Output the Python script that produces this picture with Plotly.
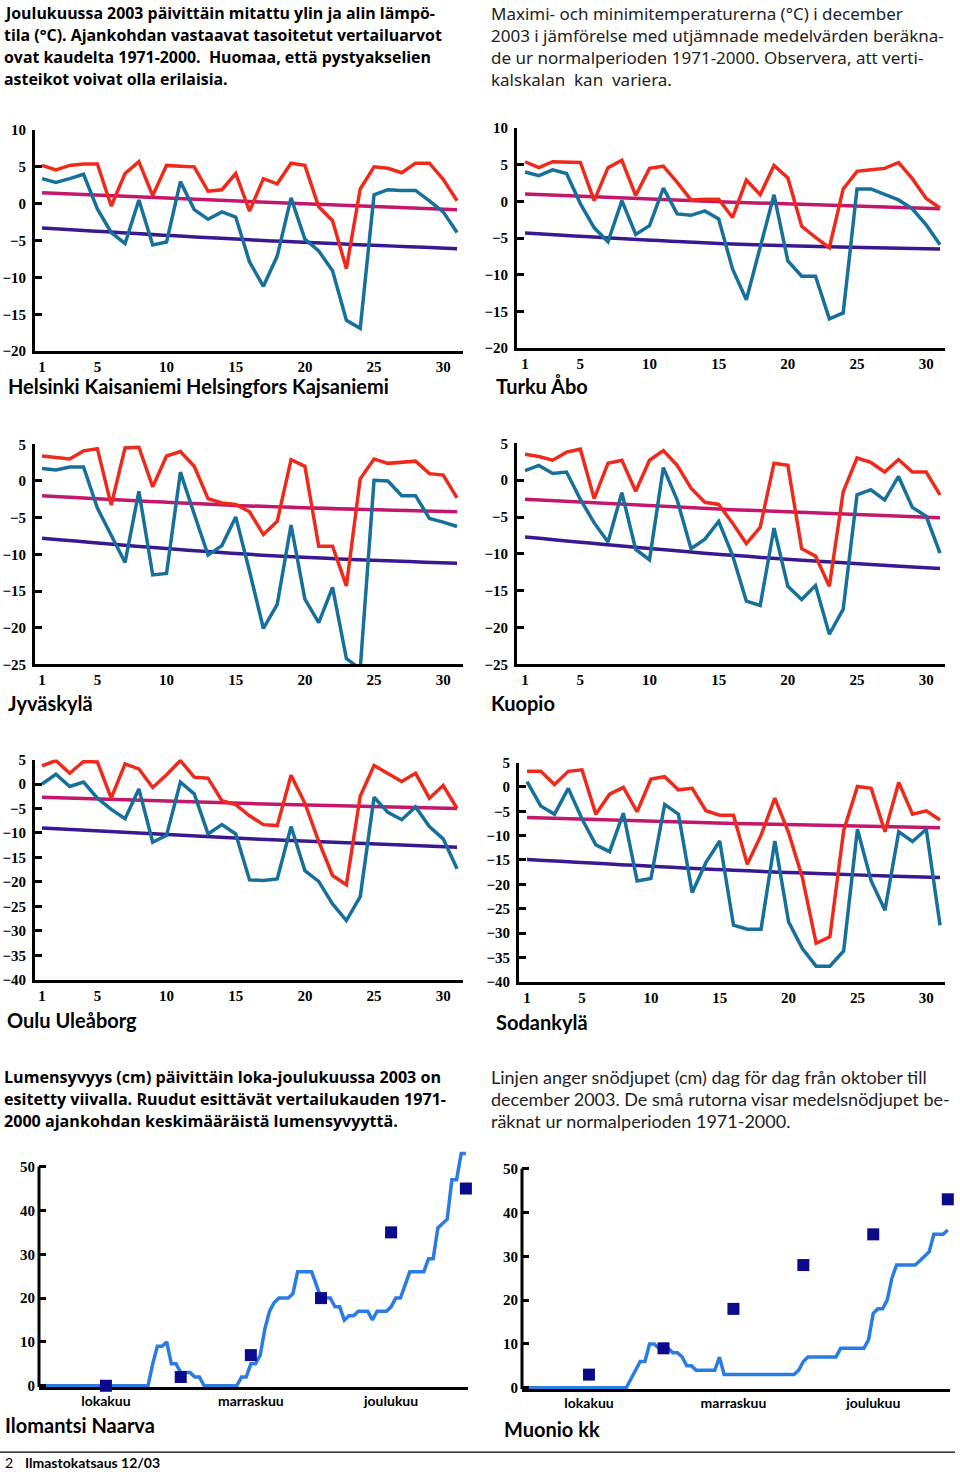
import plotly.graph_objects as go

W, H = 960, 1475

# ---------------- data ----------------
days = list(range(1, 32))
day_ticks = [1, 5, 10, 15, 20, 25, 30]
norm_days = [1, 16, 31]

helsinki_max = [5.2, 4.6, 5.2, 5.4, 5.4, -0.3, 4.1, 5.7, 1.1, 5.2, 5.1, 5.0, 1.7, 1.9, 4.1, -1.0,
                3.4, 2.7, 5.5, 5.2, -0.4, -2.3, -8.8, 2.0, 5.0, 4.8, 4.2, 5.5, 5.5, 3.3, 0.4]
helsinki_min = [3.4, 2.9, 3.4, 4.0, -0.7, -3.9, -5.4, 0.5, -5.6, -5.2, 3.0, -0.8, -2.1, -1.1, -1.8, -7.9,
                -11.2, -7.1, 0.8, -4.8, -6.4, -9.1, -15.8, -16.9, 1.2, 1.9, 1.8, 1.8, 0.4, -1.1, -3.9]
helsinki_norm_max = [1.5, 0.3, -0.8]
helsinki_norm_min = [-3.3, -4.9, -6.1]

turku_max = [5.4, 4.6, 5.4, 5.3, 5.3, 0.1, 4.6, 5.6, 0.8, 4.5, 4.8, 2.6, 0.2, 0.3, 0.3, -2.2,
             2.9, 0.9, 4.9, 3.2, -3.4, -4.9, -6.3, 1.7, 4.1, 4.3, 4.5, 5.3, 3.1, 0.4, -0.9]
turku_min = [4.0, 3.5, 4.3, 3.8, -0.3, -3.6, -5.5, 0.1, -4.5, -3.3, 1.8, -1.7, -1.9, -1.3, -2.4, -9.2,
             -13.4, -6.1, 0.9, -8.1, -10.2, -10.2, -16.0, -15.2, 1.7, 1.7, 1.0, 0.2, -1.0, -3.2, -5.9]
turku_norm_max = [1.0, -0.1, -1.0]
turku_norm_min = [-4.3, -5.8, -6.5]

jyvaskyla_max = [3.4, 3.2, 3.0, 4.1, 4.4, -3.3, 4.5, 4.6, -0.8, 3.4, 4.0, 2.0, -2.4, -3.0, -3.2, -4.2,
                 -7.3, -5.5, 2.9, 2.0, -8.9, -8.9, -14.3, 0.3, 3.0, 2.4, 2.5, 2.7, 1.0, 0.8, -2.3]
jyvaskyla_min = [1.7, 1.5, 1.9, 1.9, -3.7, -7.3, -11.1, -1.4, -12.8, -12.6, 1.2, -4.5, -10.1, -8.8, -4.9, -12.3,
                 -20.1, -16.8, -6.0, -16.1, -19.3, -14.5, -24.2, -25.6, 0.1, 0.0, -2.0, -2.0, -5.1, -5.6, -6.2]
jyvaskyla_norm_max = [-2.0, -3.4, -4.2]
jyvaskyla_norm_min = [-7.8, -10.0, -11.2]

kuopio_max = [3.5, 3.2, 2.7, 3.8, 4.2, -2.5, 2.3, 2.7, -1.5, 2.7, 4.0, 2.0, -1.1, -3.0, -3.3, -5.8,
              -8.6, -6.4, 2.3, 2.0, -9.3, -10.3, -14.4, -1.6, 3.0, 2.4, 1.1, 2.8, 1.1, 1.1, -2.0]
kuopio_min = [1.3, 2.0, 0.9, 1.1, -2.6, -5.8, -8.4, -1.7, -9.4, -10.8, 1.7, -2.7, -9.3, -8.0, -5.6, -10.2,
              -16.4, -17.0, -6.5, -14.4, -16.2, -14.3, -20.9, -17.5, -2.0, -1.3, -2.7, 0.5, -3.7, -4.9, -9.9]
kuopio_norm_max = [-2.6, -4.0, -5.1]
kuopio_norm_min = [-7.7, -10.2, -12.0]

oulu_max = [3.7, 4.8, 2.2, 4.6, 4.5, -2.9, 4.1, 3.1, -0.7, 1.9, 4.8, 1.4, 1.2, -3.4, -4.2, -6.5,
            -8.3, -8.5, 1.8, -3.9, -11.7, -18.7, -20.6, -2.5, 3.8, 2.2, 0.5, 2.2, -2.9, -0.3, -5.0]
oulu_min = [0.0, 2.0, -0.5, 0.4, -2.9, -5.2, -7.1, -1.0, -11.9, -10.5, 0.4, -2.0, -10.2, -8.3, -10.2, -19.6,
            -19.7, -19.4, -8.7, -17.7, -19.9, -24.5, -27.9, -23.0, -2.7, -5.8, -7.3, -4.7, -8.7, -11.2, -17.3]
oulu_norm_max = [-2.7, -4.0, -5.0]
oulu_norm_min = [-9.0, -11.2, -12.9]

sodankyla_max = [3.2, 3.2, 0.5, 3.2, 3.5, -5.6, -1.5, -0.1, -5.1, 1.6, 2.1, -0.6, -0.3, -4.9, -5.8, -5.8,
                 -15.9, -9.9, -2.3, -9.4, -18.6, -32.1, -30.8, -9.0, 0.1, -0.3, -9.2, 0.9, -5.6, -4.9, -6.8]
sodankyla_min = [1.1, -3.9, -5.6, -0.3, -6.6, -11.9, -13.3, -5.4, -19.3, -18.8, -3.6, -5.6, -21.7, -15.5, -11.1, -28.4,
                 -29.2, -29.2, -11.1, -27.7, -33.2, -36.8, -36.8, -33.7, -8.7, -19.3, -25.3, -9.2, -11.2, -8.7, -28.4]
sodankyla_norm_max = [-6.3, -7.5, -8.4]
sodankyla_norm_min = [-14.9, -17.1, -18.6]

# snow depth, 1 Oct (day 1) .. 31 Dec (day 92)
snow_days = list(range(1, 93))
ilomantsi_depth = ([0] * 24 +
                   [5, 9, 9, 10, 5, 5, 3, 3, 3, 2, 2] +
                   [0] * 8 +
                   [2, 2, 5, 5, 7, 13, 17, 19, 20, 20, 20, 21, 26, 26, 26, 26, 23, 20, 20, 20,
                    18, 18, 15, 16, 16, 17, 17, 17, 15, 17, 17, 17, 18, 20, 20, 23, 26, 26, 26, 26,
                    29, 29, 36, 37, 38, 47, 47, 53, 53])
muonio_depth = ([0] * 23 +
                [2, 4, 6, 6, 10, 10, 9, 9, 9, 8, 8, 7, 5, 5, 4, 4, 4, 4, 4, 7, 3] +
                [3] * 15 +
                [4, 6] + [7] * 7 + [9] * 6 +
                [11, 17, 18, 18, 20, 25] + [28] * 5 +
                [29, 30, 31, 35, 35, 35, 36])
normal_days = [15, 31, 46, 61, 76, 92]
ilomantsi_normal = [0, 2, 7, 20, 35, 45]
muonio_normal = [3, 9, 18, 28, 35, 43]
month_ticks = [15, 46, 76]
month_labels = ["lokakuu", "marraskuu", "joulukuu"]

# ---------------- styling ----------------
RED = "#ee2a1c"
BLUE = "#17709b"
MAGENTA = "#c2176c"
PURPLE = "#3a1890"
SNOW = "#2a7ce2"
SQUARE = "#0a0a8a"
NUMFONT = dict(family="Liberation Serif", size=15, color="black", weight="bold")
MONTHFONT = dict(family="Lato", size=14, color="black", weight="bold")
TITLEFONT = dict(family="Lato", size=20, color="black", weight="bold")

# the photographed page comes out slightly squeezed vertically; map target pixel rows accordingly
V_OFF, V_SCALE = 9.1, 0.9883


def fx(px):
    return px / W


def fy(py):
    return 1 - ((py - V_OFF) / V_SCALE) / H


temp_panels = [
    dict(title="Helsinki Kaisaniemi Helsingfors Kajsaniemi", mx=helsinki_max, mn=helsinki_min,
         nmx=helsinki_norm_max, nmn=helsinki_norm_min, yr=(-20, 10),
         box=(35, 131, 463, 352), xr=(0.49, 31.43), tpos=(6, 387)),
    dict(title="Turku Åbo", mx=turku_max, mn=turku_min,
         nmx=turku_norm_max, nmn=turku_norm_min, yr=(-20, 10),
         box=(517, 129, 945, 349), xr=(0.42, 31.36), tpos=(494, 387)),
    dict(title="Jyväskylä", mx=jyvaskyla_max, mn=jyvaskyla_min,
         nmx=jyvaskyla_norm_max, nmn=jyvaskyla_norm_min, yr=(-25, 5),
         box=(35, 445, 463, 665), xr=(0.49, 31.43), tpos=(6, 704)),
    dict(title="Kuopio", mx=kuopio_max, mn=kuopio_min,
         nmx=kuopio_norm_max, nmn=kuopio_norm_min, yr=(-25, 5),
         box=(517, 444, 945, 665), xr=(0.42, 31.36), tpos=(489, 704)),
    dict(title="Oulu Uleåborg", mx=oulu_max, mn=oulu_min,
         nmx=oulu_norm_max, nmn=oulu_norm_min, yr=(-40, 5),
         box=(35, 760, 463, 980), xr=(0.49, 31.43), tpos=(5, 1020)),
    dict(title="Sodankylä", mx=sodankyla_max, mn=sodankyla_min,
         nmx=sodankyla_norm_max, nmn=sodankyla_norm_min, yr=(-40, 5),
         box=(519, 763, 945, 982), xr=(0.42, 31.36), tpos=(494, 1022)),
]

snow_panels = [
    dict(title="Ilomantsi Naarva", depth=ilomantsi_depth, normal=ilomantsi_normal,
         box=(39, 1147, 468, 1387), xr=(0.68, 92.45), tpos=(3, 1425)),
    dict(title="Muonio kk", depth=muonio_depth, normal=muonio_normal,
         box=(522, 1149, 950, 1389), xr=(0.63, 92.47), tpos=(502, 1429)),
]

fig = go.Figure()
layout = {}
annotations = []
shapes = []


def axis_names(i):
    s = "" if i == 1 else str(i)
    return "x" + s, "y" + s, "xaxis" + s, "yaxis" + s


def note(text, px, py, font, xanchor="left", yanchor="middle"):
    annotations.append(dict(text=text, x=fx(px), y=fy(py), xref="paper", yref="paper",
                            xanchor=xanchor, yanchor=yanchor, showarrow=False, font=font, align="left"))


idx = 0
for p in temp_panels:
    idx += 1
    xr_, yr_, xa, ya = axis_names(idx)
    x0, y0, x1, y1 = p["box"]
    fig.add_trace(go.Scatter(x=norm_days, y=p["nmx"], mode="lines", line=dict(color=MAGENTA, width=3.5, shape="spline"),
                             xaxis=xr_, yaxis=yr_, showlegend=False, hoverinfo="skip"))
    fig.add_trace(go.Scatter(x=norm_days, y=p["nmn"], mode="lines", line=dict(color=PURPLE, width=3.5, shape="spline"),
                             xaxis=xr_, yaxis=yr_, showlegend=False, hoverinfo="skip"))
    fig.add_trace(go.Scatter(x=days, y=p["mn"], mode="lines", line=dict(color=BLUE, width=3.5),
                             xaxis=xr_, yaxis=yr_, showlegend=False))
    fig.add_trace(go.Scatter(x=days, y=p["mx"], mode="lines", line=dict(color=RED, width=3.5),
                             xaxis=xr_, yaxis=yr_, showlegend=False))
    layout[xa] = dict(domain=[fx(x0), fx(x1)], range=list(p["xr"]), anchor=yr_,
                      showline=True, linecolor="black", linewidth=3, ticks="",
                      tickmode="array", tickvals=day_ticks, showgrid=False, zeroline=False,
                      tickfont=NUMFONT, ticklabelstandoff=0, fixedrange=True)
    ylo, yhi = p["yr"]
    layout[ya] = dict(domain=[fy(y1), fy(y0)], range=[ylo, yhi], anchor=xr_,
                      showline=True, linecolor="black", linewidth=3,
                      ticks="inside", ticklen=7, tickwidth=2.5, tickcolor="black",
                      tickmode="array", tickvals=list(range(ylo, yhi + 1, 5)),
                      showgrid=False, zeroline=False, tickfont=NUMFONT,
                      ticklabelstandoff=3, fixedrange=True)
    note(p["title"], p["tpos"][0], p["tpos"][1], TITLEFONT)

for p in snow_panels:
    idx += 1
    xr_, yr_, xa, ya = axis_names(idx)
    x0, y0, x1, y1 = p["box"]
    fig.add_trace(go.Scatter(x=snow_days, y=p["depth"], mode="lines", line=dict(color=SNOW, width=3.5),
                             xaxis=xr_, yaxis=yr_, showlegend=False))
    fig.add_trace(go.Scatter(x=normal_days, y=p["normal"], mode="markers",
                             marker=dict(symbol="square", size=12, color=SQUARE),
                             xaxis=xr_, yaxis=yr_, showlegend=False, cliponaxis=False))
    layout[xa] = dict(domain=[fx(x0), fx(x1)], range=list(p["xr"]), anchor=yr_,
                      showline=True, linecolor="black", linewidth=3, ticks="", layer="below traces",
                      tickmode="array", tickvals=month_ticks, ticktext=month_labels,
                      showgrid=False, zeroline=False, tickfont=MONTHFONT, ticklabelstandoff=-1, fixedrange=True)
    layout[ya] = dict(domain=[fy(y1), fy(y0)], range=[-0.3, 54.5], anchor=xr_,
                      showline=False, ticks="inside", ticklen=7, tickwidth=2.5, tickcolor="black",
                      tickmode="array", tickvals=[0, 10, 20, 30, 40, 50],
                      showgrid=False, zeroline=False, tickfont=NUMFONT,
                      ticklabelstandoff=3, fixedrange=True)
    shapes.append(dict(type="line", xref=xr_ + " domain", yref=yr_, x0=0, x1=0, y0=-0.3, y1=50,
                       line=dict(color="black", width=3), layer="below"))
    note(p["title"], p["tpos"][0], p["tpos"][1], TITLEFONT)

# ---------------- text blocks ----------------
fi_top = ["Joulukuussa 2003 päivittäin mitattu ylin ja alin lämpö-",
          "tila (°C). Ajankohdan vastaavat tasoitetut vertailuarvot",
          "ovat kaudelta 1971-2000.  Huomaa, että pystyakselien",
          "asteikot voivat olla erilaisia."]
sv_top = ["Maximi- och minimitemperaturerna (°C) i december",
          "2003 i jämförelse med utjämnade medelvärden beräkna-",
          "de ur normalperioden 1971-2000. Observera, att verti-",
          "kalskalan  kan  variera."]
fi_mid = ["Lumensyvyys (cm) päivittäin loka-joulukuussa 2003 on",
          "esitetty viivalla. Ruudut esittävät vertailukauden 1971-",
          "2000 ajankohdan keskimääräistä lumensyvyyttä."]
sv_mid = ["Linjen anger snödjupet (cm) dag för dag från oktober till",
          "december 2003. De små rutorna visar medelsnödjupet be-",
          "räknat ur normalperioden 1971-2000."]

FI_FONT = dict(family="Open Sans", size=15.9, color="black", weight="bold")
for k, line in enumerate(fi_top):
    note(line, 2, 14 + 22 * k, FI_FONT)
note("<br>".join(sv_top), 489, 47.5, dict(family="Noto Sans", size=17.0, color="#222222", weight="normal"))
for k, line in enumerate(fi_mid):
    note(line, 2, 1077 + 22 * k, dict(family="Open Sans", size=16.1, color="black", weight="bold"))
for k, line in enumerate(sv_mid):
    note(line, 489, 1077 + 22 * k, dict(family="Lato", size=18.0, color="#222222", weight="normal"))

# footer
shapes.append(dict(type="line", xref="paper", yref="paper", x0=0, x1=fx(955), y0=fy(1452), y1=fy(1452),
                   line=dict(color="black", width=1.2)))
note("2", 3, 1462, dict(family="Lato", size=14, color="black"))
note("Ilmastokatsaus 12/03", 23, 1462, dict(family="Lato", size=14, color="black", weight="bold"))

fig.update_layout(width=W, height=H, margin=dict(l=0, r=0, t=0, b=0), paper_bgcolor="white",
                  plot_bgcolor="white", showlegend=False, annotations=annotations, shapes=shapes, **layout)

fig.write_html("out.html")
